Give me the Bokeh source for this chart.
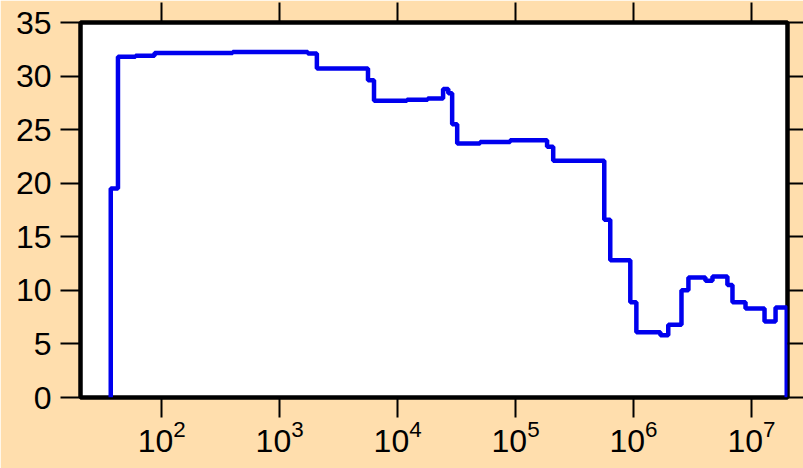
from bokeh.plotting import figure
from bokeh.models import Range1d, LogAxis, LinearAxis, FixedTicker
from bokeh.embed import file_html
from bokeh.resources import INLINE

# step edges (x) and the value held on each interval
edges = [37, 42.6, 60, 87, 400, 1733, 2068, 5610, 6310, 12000, 18000, 24300,
         26900, 29000, 32000, 50000, 90000, 185000, 208500, 565000, 635000,
         939000, 1.057e6, 1.69e6, 1.97e6, 2.55e6, 2.92e6, 4.07e6, 4.67e6,
         6.25e6, 6.90e6, 8.9e6, 1.29e7, 1.60e7, 1.99e7]
values = [19.5, 31.8, 31.9, 32.15, 32.25, 32.1, 30.7, 29.6, 27.7, 27.8, 27.9,
          28.8, 28.4, 25.5, 23.7, 23.85, 24.0, 23.4, 22.1, 16.6, 12.8, 8.9,
          6.1, 5.8, 6.8, 10.0, 11.2, 10.9, 11.3, 10.5, 8.9, 8.3, 7.1, 8.4]
y_ticks = [0, 5, 10, 15, 20, 25, 30, 35]
x_ticks = [1e2, 1e3, 1e4, 1e5, 1e6, 1e7]

xs = [edges[0]] + edges
ys = [0] + values + [0]

BG = "#FFDEAD"
FONT = "Liberation Sans"

p = figure(frame_width=707, frame_height=375, x_axis_type="log",
           x_range=Range1d(20.5, 2.02e7), y_range=Range1d(0, 35),
           output_backend="svg", toolbar_location=None,
           min_border_left=80, min_border_right=16, min_border_top=22,
           min_border_bottom=71)
p.border_fill_color = BG
p.background_fill_color = "white"
p.outline_line_color = "black"
p.outline_line_width = 4.5
p.grid.visible = False

p.step(xs, ys, mode="after", line_color="#0000EE", line_width=4.5)

xa = p.xaxis[0]
xa.ticker = FixedTicker(ticks=x_ticks)
ya = p.yaxis[0]
ya.ticker = FixedTicker(ticks=y_ticks)
for ax in (xa, ya):
    ax.axis_line_color = None
    ax.major_tick_line_color = "black"
    ax.major_tick_line_width = 2
    ax.major_tick_in = 0
    ax.major_tick_out = 20
    ax.minor_tick_line_color = None
    ax.major_label_text_font = FONT
    ax.major_label_text_font_size = "32px"
    ax.major_label_text_color = "black"
xa.major_label_standoff = 2
ya.major_label_standoff = 9

top = LogAxis(ticker=FixedTicker(ticks=x_ticks))
right = LinearAxis(ticker=FixedTicker(ticks=y_ticks))
for ax, out in ((top, 20), (right, 16)):
    ax.axis_line_color = None
    ax.major_tick_line_color = "black"
    ax.major_tick_line_width = 2
    ax.major_tick_in = 0
    ax.major_tick_out = out
    ax.minor_tick_line_color = None
    ax.major_label_text_font_size = "1px"
    ax.major_label_text_color = None
    ax.major_label_standoff = 0
p.add_layout(top, "above")
p.add_layout(right, "right")

open("out.html", "w").write(file_html(p, INLINE))
